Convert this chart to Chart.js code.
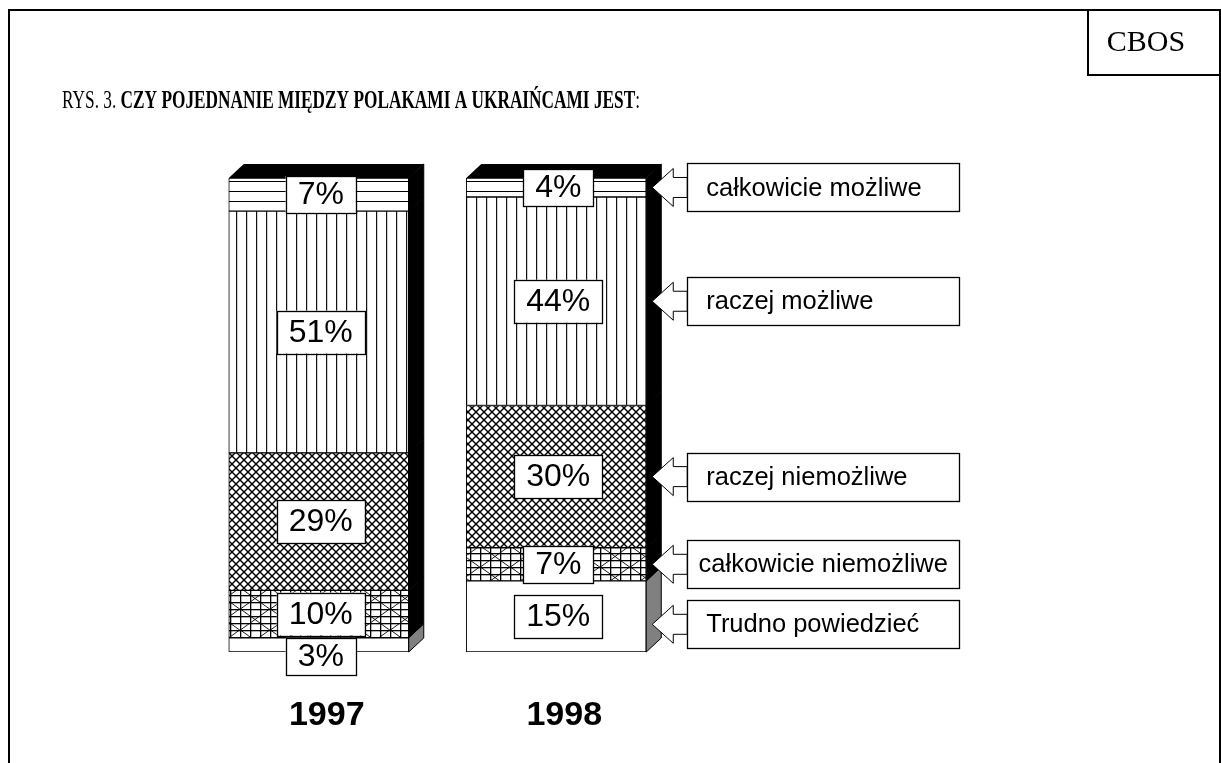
<!DOCTYPE html>
<html>
<head>
<meta charset="utf-8">
<style>
html,body{margin:0;padding:0;background:#fff;}
#wrap{position:relative;width:1221px;height:763px;}
</style>
<script src="https://cdn.jsdelivr.net/npm/chart.js@4.4.0/dist/chart.umd.min.js"></script>
</head>
<body>
<div id="wrap"><canvas id="c" width="1221" height="763"></canvas></div>
<script>
// ---- data ----
const categories = ['1997', '1998'];
const seriesNames = ['Trudno powiedzieć', 'całkowicie niemożliwe', 'raczej niemożliwe', 'raczej możliwe', 'całkowicie możliwe'];
const trudnoPowiedziec = [3, 15];
const calkowicieNiemozliwe = [10, 7];
const raczejNiemozliwe = [29, 30];
const raczejMozliwe = [51, 44];
const calkowicieMozliwe = [7, 4];
const titlePrefix = 'RYS. 3. ';
const titleBold = 'CZY POJEDNANIE MIĘDZY POLAKAMI A UKRAIŃCAMI JEST';
const titleSuffix = ':';
const sourceLabel = 'CBOS';

const canvas = document.getElementById('c');
const mainCtx = canvas.getContext('2d');

function makePattern(w, h, draw) {
  const c = document.createElement('canvas');
  c.width = w; c.height = h;
  const g = c.getContext('2d');
  g.fillStyle = '#fff';
  g.fillRect(0, 0, w, h);
  g.fillStyle = '#000';
  g.strokeStyle = '#000';
  draw(g, w, h);
  return mainCtx.createPattern(c, 'repeat');
}
function diag(g, w, h, lw) {
  g.lineWidth = lw;
  for (let k = -1; k <= 1; k++) {
    g.beginPath(); g.moveTo(k * w - 1, -1); g.lineTo(k * w + w + 1, h + 1); g.stroke();
    g.beginPath(); g.moveTo(k * w + w + 1, -1); g.lineTo(k * w - 1, h + 1); g.stroke();
  }
}
const patHoriz = makePattern(10, 10, g => { g.fillRect(0, 1, 10, 1); });
const patVert = makePattern(10, 10, g => { g.fillStyle = '#111'; g.fillRect(6, 0, 1.2, 10); });
const patCross = makePattern(8, 8, (g, w, h) => diag(g, w, h, 1.4));
const patGrid = makePattern(30, 21, (g, w, h) => {
  diag(g, w, h, 0.9);
  for (let x = 0; x < w; x += 10) g.fillRect(x, 0, 1.3, h);
  for (let y = 0; y < h; y += 7) g.fillRect(0, y, w, 1.3);
});

const seriesData = [trudnoPowiedziec, calkowicieNiemozliwe, raczejNiemozliwe, raczejMozliwe, calkowicieMozliwe];
const seriesFill = ['#ffffff', patGrid, patCross, patVert, patHoriz];
const sideFill = ['#808080', '#000', '#000', '#000', '#000'];

const depth = { dx: 15, dy: 14 };

const decoPlugin = {
  id: 'deco',
  beforeDraw(chart) {
    const ctx = chart.ctx;
    ctx.save();
    ctx.fillStyle = '#fff';
    ctx.fillRect(0, 0, chart.width, chart.height);
    ctx.restore();
  },
  afterDatasetsDraw(chart) {
    const ctx = chart.ctx;
    const n = chart.data.datasets.length;
    ctx.save();
    // 3D side and top faces
    chart.data.labels.forEach((lab, i) => {
      for (let d = 0; d < n; d++) {
        const el = chart.getDatasetMeta(d).data[i];
        const right = el.x + el.width / 2;
        const top = Math.min(el.y, el.base), bot = Math.max(el.y, el.base);
        ctx.beginPath();
        ctx.moveTo(right, bot); ctx.lineTo(right, top);
        ctx.lineTo(right + depth.dx, top - depth.dy);
        ctx.lineTo(right + depth.dx, bot - depth.dy);
        ctx.closePath();
        ctx.fillStyle = sideFill[d];
        ctx.fill();
        ctx.strokeStyle = '#000'; ctx.lineWidth = 1; ctx.stroke();
      }
      const tEl = chart.getDatasetMeta(n - 1).data[i];
      const l = tEl.x - tEl.width / 2, r = tEl.x + tEl.width / 2, t = Math.min(tEl.y, tEl.base);
      ctx.beginPath();
      ctx.moveTo(l, t); ctx.lineTo(r, t);
      ctx.lineTo(r + depth.dx, t - depth.dy); ctx.lineTo(l + depth.dx, t - depth.dy);
      ctx.closePath();
      ctx.fillStyle = '#000'; ctx.fill();
    });
    // value label boxes
    ctx.font = '32px "Liberation Sans", Arial, sans-serif';
    ctx.textAlign = 'center';
    ctx.textBaseline = 'middle';
    chart.data.datasets.forEach((ds, d) => {
      chart.getDatasetMeta(d).data.forEach((el, i) => {
        const txt = ds.data[i] + '%';
        const tw = ctx.measureText(txt).width;
        const bw = tw + 24;
        const bh = txt.length > 2 ? 43 : 37;
        const top = Math.min(el.y, el.base), bot = Math.max(el.y, el.base);
        let by = (top + bot) / 2 - bh / 2;
        if (bot - top < bh / 2) by = top;
        const bx = el.x + 2 - bw / 2;
        ctx.fillStyle = '#fff';
        ctx.fillRect(bx, by, bw, bh);
        ctx.strokeStyle = '#000'; ctx.lineWidth = 1.3;
        ctx.strokeRect(Math.round(bx) + 0.5, Math.round(by) + 0.5, Math.round(bw), Math.round(bh));
        ctx.fillStyle = '#000';
        ctx.fillText(txt, el.x + 2, by + bh / 2 + 1);
      });
    });
    // legend with arrows, next to the last bar
    const last = chart.data.labels.length - 1;
    const boxH = 48, boxW = 272, gap = 12;
    let prevC = -Infinity;
    ctx.font = '25.5px "Liberation Sans", Arial, sans-serif';
    ctx.textAlign = 'left';
    for (let d = n - 1; d >= 0; d--) {
      const el = chart.getDatasetMeta(d).data[last];
      const right = el.x + el.width / 2;
      let cy = (el.y + el.base) / 2;
      if (cy < prevC + boxH + gap) cy = prevC + boxH + gap;
      prevC = cy;
      const tipX = right + 6;
      const bx = right + 41;
      const by = cy - boxH / 2;
      // arrow
      ctx.beginPath();
      ctx.moveTo(tipX, cy);
      ctx.lineTo(tipX + 21, cy - 19);
      ctx.lineTo(tipX + 21, cy - 10);
      ctx.lineTo(bx, cy - 10);
      ctx.lineTo(bx, cy + 10);
      ctx.lineTo(tipX + 21, cy + 10);
      ctx.lineTo(tipX + 21, cy + 19);
      ctx.closePath();
      ctx.fillStyle = '#fff'; ctx.fill();
      ctx.strokeStyle = '#000'; ctx.lineWidth = 1; ctx.stroke();
      // box
      ctx.fillStyle = '#fff';
      ctx.fillRect(bx, by, boxW, boxH);
      ctx.lineWidth = 1.3;
      ctx.strokeRect(Math.round(bx) + 0.5, Math.round(by) + 0.5, boxW, boxH);
      const name = chart.data.datasets[d].label;
      const tw = ctx.measureText(name).width;
      const pad = Math.min(19, (boxW - tw) / 2);
      ctx.fillStyle = '#000';
      ctx.textBaseline = 'middle';
      ctx.fillText(name, bx + pad, cy + 1);
    }
    ctx.restore();
  },
  afterDraw(chart) {
    const ctx = chart.ctx;
    ctx.save();
    // frame
    ctx.strokeStyle = '#000';
    ctx.lineWidth = 2;
    ctx.beginPath();
    ctx.moveTo(9, 770); ctx.lineTo(9, 10); ctx.lineTo(1220, 10); ctx.lineTo(1220, 770);
    ctx.stroke();
    ctx.beginPath();
    ctx.moveTo(1088, 10); ctx.lineTo(1088, 75); ctx.lineTo(1220, 75);
    ctx.stroke();
    ctx.fillStyle = '#000';
    ctx.font = '30px "Liberation Serif", "Times New Roman", serif';
    ctx.textAlign = 'center';
    ctx.textBaseline = 'middle';
    ctx.fillText(sourceLabel, 1146, 43);
    // title (condensed Times)
    const fReg = '25px "Liberation Serif", "Times New Roman", serif';
    const fBold = 'bold 25px "Liberation Serif", "Times New Roman", serif';
    ctx.textAlign = 'left';
    ctx.textBaseline = 'alphabetic';
    ctx.font = fReg; const w1 = ctx.measureText(titlePrefix).width; const w3 = ctx.measureText(titleSuffix).width;
    ctx.font = fBold; const w2 = ctx.measureText(titleBold).width;
    const sx = (640 - 62) / (w1 + w2 + w3);
    ctx.translate(62, 108);
    ctx.scale(sx, 1);
    ctx.font = fReg; ctx.fillText(titlePrefix, 0, 0);
    ctx.font = fBold; ctx.fillText(titleBold, w1, 0);
    ctx.font = fReg; ctx.fillText(titleSuffix, w1 + w2, 0);
    ctx.restore();
  }
};

new Chart(canvas, {
  type: 'bar',
  data: {
    labels: categories,
    datasets: seriesNames.map((name, k) => ({
      label: name,
      data: seriesData[k],
      backgroundColor: seriesFill[k],
      borderColor: '#000',
      borderWidth: 1,
      borderSkipped: false,
      barThickness: 180
    }))
  },
  options: {
    responsive: false,
    animation: false,
    devicePixelRatio: 1,
    layout: { padding: { left: 200, right: 546, top: 178, bottom: 0 } },
    plugins: { legend: { display: false }, tooltip: { enabled: false }, title: { display: false } },
    scales: {
      x: {
        stacked: true,
        grid: { display: false, drawTicks: false },
        border: { display: false },
        ticks: { color: '#000', padding: 43, labelOffset: 8, font: { family: '"Liberation Sans", Arial, sans-serif', size: 34, weight: 'bold' } },
        afterFit(s) { s.height = 111; }
      },
      y: { stacked: true, display: false, min: 0, max: 100 }
    }
  },
  plugins: [decoPlugin]
});
</script>
</body>
</html>
